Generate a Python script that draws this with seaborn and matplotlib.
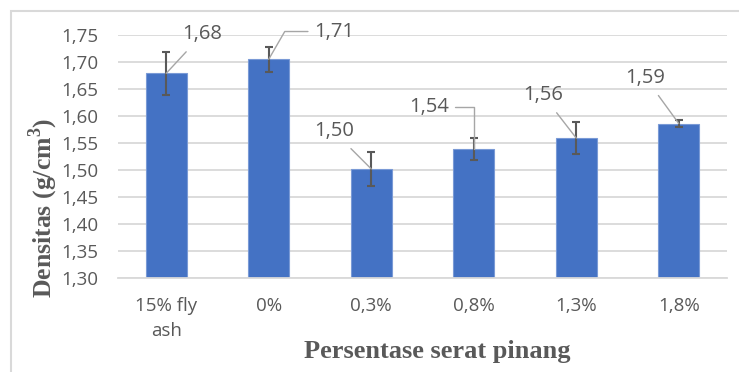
import numpy as np
import pandas as pd
import matplotlib
matplotlib.use("Agg")
import matplotlib.pyplot as plt
from matplotlib.patches import Rectangle
import seaborn as sns

# data
categories = ["15% fly\nash", "0%", "0,3%", "0,8%", "1,3%", "1,8%"]
densitas = [1.679, 1.705, 1.502, 1.539, 1.559, 1.586]
errors = [0.040, 0.023, 0.031, 0.021, 0.030, 0.006]
value_labels = ["1,68", "1,71", "1,50", "1,54", "1,56", "1,59"]
yticks = [1.30, 1.35, 1.40, 1.45, 1.50, 1.55, 1.60, 1.65, 1.70, 1.75]

# label offsets (points) from bar top, and leader style
label_offsets = [(26, 28), (47, 20), (-27, 27), (-32, 30), (-24, 31), (-24, 33)]
bent = [False, True, False, True, False, False]

sns.set_style("white")
plt.rcParams["font.family"] = ["Open Sans", "DejaVu Sans"]
plt.rcParams["mathtext.fontset"] = "custom"
plt.rcParams["mathtext.bf"] = "Liberation Serif:bold"
grey = "#595959"

df = pd.DataFrame({"kategori": categories, "densitas": densitas})

fig = plt.figure(figsize=(7.39, 3.72), dpi=100)
ax = fig.add_axes([118 / 739, 1 - 278 / 372, 609 / 739, 243 / 372])

sns.barplot(data=df, x="kategori", y="densitas", color="#4472C4", width=0.4,
            edgecolor="#7a9ad6", linewidth=0.8, saturation=1, ax=ax, zorder=2)

ax.set_ylim(1.30, 1.75)
ax.set_yticks(yticks)
ax.set_yticklabels([f"{t:.2f}".replace(".", ",") for t in yticks])
ax.yaxis.grid(True, color="#d9d9d9", linewidth=1.3)
ax.set_axisbelow(True)
for s in ["top", "right", "left"]:
    ax.spines[s].set_visible(False)
ax.spines["bottom"].set_color("#d9d9d9")
ax.spines["bottom"].set_linewidth(1.3)
ax.tick_params(axis="both", length=0, colors=grey)
ax.tick_params(axis="y", labelsize=13.5, pad=14)
ax.tick_params(axis="x", labelsize=13.5, pad=14)
for lab in ax.get_xticklabels():
    lab.set_linespacing(1.45)

xs = [p.get_x() + p.get_width() / 2 for p in ax.patches]
hs = [p.get_height() for p in ax.patches]
ax.errorbar(xs, hs, yerr=errors, fmt="none", ecolor=grey, elinewidth=1.5,
            capsize=3, capthick=1.5, zorder=3)

for x, h, txt, off, b in zip(xs, hs, value_labels, label_offsets, bent):
    if b:
        cs = "angle,angleA=0,angleB=90,rad=0" if off[0] < 0 else "angle,angleA=0,angleB=60,rad=0"
        style = dict(arrowstyle="-", color="#a6a6a6", lw=1, shrinkA=2, shrinkB=0,
                     connectionstyle=cs)
    else:
        style = dict(arrowstyle="-", color="#a6a6a6", lw=1, shrinkA=4, shrinkB=0)
    ax.annotate(txt, xy=(x, h), xytext=off, textcoords="offset points",
                ha="center", va="center", fontsize=14.5, color=grey,
                arrowprops=style, annotation_clip=False, zorder=4)

ax.set_xlabel("Persentase serat pinang", family="Liberation Serif",
              fontweight="bold", fontsize=19, color=grey)
ax.set_ylabel("Densitas (g/cm$^{\\mathbf{3}}$)", family="Liberation Serif",
              fontweight="bold", fontsize=18.5, color=grey)
ax.xaxis.set_label_coords(0.525, -0.255)
ax.yaxis.set_label_coords(-0.095, 0.29)

fig.add_artist(Rectangle((10.5 / 739, -0.2), 1.2, 1.2 - 10.5 / 372 + 0.0,
                         transform=fig.transFigure, fill=False,
                         edgecolor="#d9d9d9", linewidth=1.5))

fig.savefig("out.png", dpi=100)
